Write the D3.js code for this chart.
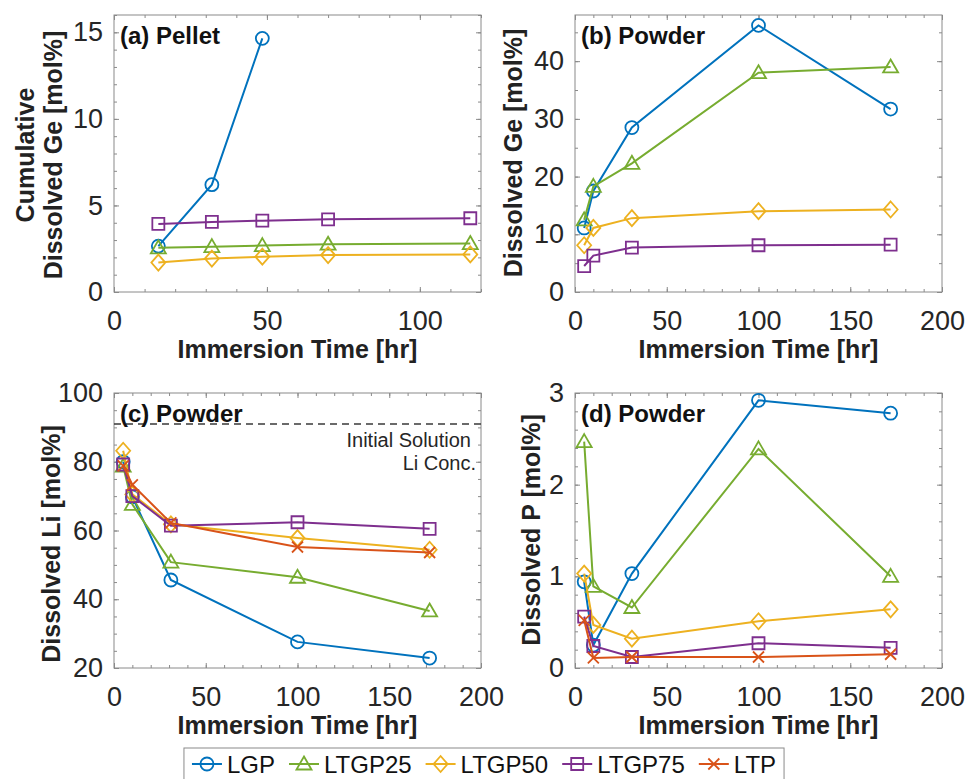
<!DOCTYPE html>
<html>
<head>
<meta charset="utf-8">
<script src="https://cdn.jsdelivr.net/npm/d3@7"></script>
<style>
  body { margin: 0; background: #fff; }
  svg { display: block; font-family: "Liberation Sans", Arial, Helvetica, sans-serif; }
  .tick text { fill: #262626; font-size: 27px; font-family: "Liberation Sans", Arial, Helvetica, sans-serif; }
  .tick line { stroke: #8a8a8a; }
</style>
</head>
<body>
<svg id="chart"></svg>
<script>
// Series names (same order in every value table below)
const seriesNames = ["LGP", "LTGP25", "LTGP50", "LTGP75", "LTP"];

// Sampling times [hr]
const pelletTimes = [14.5, 32, 48.5, 70, 116.5];
const powderTimes = [5, 10, 31, 100, 172];

// (a) Pellet, cumulative dissolved Ge [mol%]
const pelletGe = [
  [2.65, 6.2, 14.65, null, null],
  [2.55, 2.62, 2.68, 2.76, 2.8],
  [1.7, 1.93, 2.04, 2.13, 2.17],
  [3.93, 4.05, 4.12, 4.2, 4.26],
  null
];

// (b) Powder, dissolved Ge [mol%]
const powderGe = [
  [11.1, 17.5, 28.5, 46.2, 31.7],
  [12.5, 18.3, 22.3, 38.0, 39.0],
  [8.1, 11.1, 12.8, 14.0, 14.3],
  [4.5, 6.3, 7.7, 8.1, 8.2],
  null
];

// (c) Powder, dissolved Li [mol%]
const powderLi = [
  [80, 69.8, 45.6, 27.6, 22.9],
  [78.7, 67.6, 50.8, 46.4, 36.6],
  [83.2, 70.5, 61.8, 57.8, 54.4],
  [79.2, 70, 61.4, 62.4, 60.5],
  [78.8, 73.3, 62.2, 55.2, 53.6]
];
const initialLi = 91;

// (d) Powder, dissolved P [mol%]
const powderP = [
  [0.94, 0.25, 1.03, 2.92, 2.78],
  [2.47, 0.89, 0.66, 2.39, 1.0],
  [1.03, 0.47, 0.32, 0.51, 0.64],
  [0.56, 0.24, 0.12, 0.27, 0.22],
  [0.52, 0.11, 0.12, 0.12, 0.15]
];

// Tick labels
const xTicksPellet = [0, 50, 100];
const xTicksPowder = [0, 50, 100, 150, 200];
const yTicksA = [0, 5, 10, 15];
const yTicksB = [0, 10, 20, 30, 40];
const yTicksC = [20, 40, 60, 80, 100];
const yTicksD = [0, 1, 2, 3];

// Styles
const colors = ["#0072BD", "#77AC30", "#EDB120", "#7E2F8E", "#D95319"];
const shapes = ["circle", "triangle", "diamond", "square", "cross"];

const width = 968;
const height = 779;
const svg = d3.select("#chart").attr("width", width).attr("height", height);

function markerPath(shape) {
  switch (shape) {
    case "circle": return "M6.5,0A6.5,6.5 0 1,1 -6.5,0A6.5,6.5 0 1,1 6.5,0Z";
    case "triangle": return "M0,-7.5L7.5,5.5L-7.5,5.5Z";
    case "diamond": return "M0,-8L7,0L0,8L-7,0Z";
    case "square": return "M-6,-6L6,-6L6,6L-6,6Z";
    default: return "M-5.5,-5.5L5.5,5.5M-5.5,5.5L5.5,-5.5";
  }
}

const panels = [
  { left: 114, top: 15, w: 367, h: 277, xDomain: [0, 120], yDomain: [0, 16],
    xTicks: xTicksPellet, yTicks: yTicksA, xMinor: 10, yMinor: 1,
    times: pelletTimes, values: pelletGe, title: "(a) Pellet",
    ylab: ["Cumulative", "Dissolved Ge [mol%]"], ylabX: [34, 62], ylabY: 155 },
  { left: 575, top: 15, w: 367, h: 277, xDomain: [0, 200], yDomain: [0, 48],
    xTicks: xTicksPowder, yTicks: yTicksB, xMinor: 10, yMinor: 5,
    times: powderTimes, values: powderGe, title: "(b) Powder",
    ylab: ["Dissolved Ge [mol%]"], ylabX: [522], ylabY: 153 },
  { left: 114, top: 393, w: 367, h: 275, xDomain: [0, 200], yDomain: [20, 100],
    xTicks: xTicksPowder, yTicks: yTicksC, xMinor: 10, yMinor: 5,
    times: powderTimes, values: powderLi, title: "(c) Powder",
    ylab: ["Dissolved Li [mol%]"], ylabX: [60], ylabY: 544, refLine: initialLi },
  { left: 575, top: 393, w: 367, h: 275, xDomain: [0, 200], yDomain: [0, 3],
    xTicks: xTicksPowder, yTicks: yTicksD, xMinor: 10, yMinor: 0.2,
    times: powderTimes, values: powderP, title: "(d) Powder",
    ylab: ["Dissolved P [mol%]"], ylabX: [540], ylabY: 530 }
];

panels.forEach(function (p) {
  const g = svg.append("g");
  const xScale = d3.scaleLinear().domain(p.xDomain).range([p.left, p.left + p.w]);
  const yScale = d3.scaleLinear().domain(p.yDomain).range([p.top + p.h, p.top]);
  const xMinor = d3.range(p.xDomain[0], p.xDomain[1] + 1e-9, p.xMinor);
  const yMinor = d3.range(p.yDomain[0], p.yDomain[1] + 1e-9, p.yMinor);
  const bottom = p.top + p.h;
  const right = p.left + p.w;

  // minor ticks on all four sides
  [[d3.axisBottom(xScale), `translate(0,${bottom})`, xMinor],
   [d3.axisTop(xScale), `translate(0,${p.top})`, xMinor],
   [d3.axisLeft(yScale), `translate(${p.left},0)`, yMinor],
   [d3.axisRight(yScale), `translate(${right},0)`, yMinor]].forEach(function (a) {
    g.append("g").attr("transform", a[1])
      .call(a[0].tickValues(a[2]).tickSize(-3).tickFormat(""))
      .call(s => s.select(".domain").remove());
  });

  // major ticks without labels on top/right
  g.append("g").attr("transform", `translate(0,${p.top})`)
    .call(d3.axisTop(xScale).tickValues(p.xTicks).tickSize(-5).tickFormat(""))
    .call(s => s.select(".domain").remove());
  g.append("g").attr("transform", `translate(${right},0)`)
    .call(d3.axisRight(yScale).tickValues(p.yTicks).tickSize(-5).tickFormat(""))
    .call(s => s.select(".domain").remove());

  // labelled axes
  g.append("g").attr("transform", `translate(0,${bottom})`)
    .call(d3.axisBottom(xScale).tickValues(p.xTicks).tickSize(-5).tickPadding(19).tickFormat(d3.format("d")))
    .call(s => s.select(".domain").remove());
  g.append("g").attr("transform", `translate(${p.left},0)`)
    .call(d3.axisLeft(yScale).tickValues(p.yTicks).tickSize(-5).tickPadding(11).tickFormat(d3.format("d")))
    .call(s => s.select(".domain").remove());

  // box
  g.append("rect")
    .attr("x", p.left).attr("y", p.top).attr("width", p.w).attr("height", p.h)
    .attr("fill", "none").attr("stroke", "#8a8a8a").attr("stroke-width", 1);

  // reference line
  if (p.refLine !== undefined) {
    g.append("line")
      .attr("x1", p.left).attr("x2", right)
      .attr("y1", yScale(p.refLine)).attr("y2", yScale(p.refLine))
      .attr("stroke", "#3a3a3a").attr("stroke-width", 1.6).attr("stroke-dasharray", "7,5");
    g.append("text").attr("x", right - 10).attr("y", yScale(p.refLine) + 23)
      .attr("text-anchor", "end").attr("font-size", 20).attr("fill", "#262626")
      .text("Initial Solution");
    g.append("text").attr("x", right - 5).attr("y", yScale(p.refLine) + 46)
      .attr("text-anchor", "end").attr("font-size", 20).attr("fill", "#262626")
      .text("Li Conc.");
  }

  // series
  const line = d3.line().x(d => xScale(d.t)).y(d => yScale(d.v));
  p.values.forEach(function (row, i) {
    if (!row) return;
    const pts = p.times.map((t, j) => ({ t: t, v: row[j] })).filter(d => d.v !== null);
    g.append("path").datum(pts)
      .attr("d", line).attr("fill", "none")
      .attr("stroke", colors[i]).attr("stroke-width", 2);
    g.selectAll(null).data(pts).enter().append("path")
      .attr("transform", d => `translate(${xScale(d.t)},${yScale(d.v)})`)
      .attr("d", markerPath(shapes[i]))
      .attr("fill", "none").attr("stroke", colors[i]).attr("stroke-width", 1.8);
  });

  // panel title
  g.append("text").attr("x", p.left + 6).attr("y", p.top + 29)
    .attr("font-size", 24).attr("font-weight", "bold").attr("fill", "#111")
    .text(p.title);

  // x label
  g.append("text").attr("x", p.left + p.w / 2).attr("y", bottom + 66)
    .attr("text-anchor", "middle").attr("font-size", 25).attr("font-weight", "bold").attr("fill", "#222")
    .text("Immersion Time [hr]");

  // y label
  p.ylab.forEach(function (txt, k) {
    g.append("text")
      .attr("transform", `translate(${p.ylabX[k]},${p.ylabY}) rotate(-90)`)
      .attr("text-anchor", "middle").attr("font-size", 25).attr("font-weight", "bold").attr("fill", "#222")
      .text(txt);
  });
});

// Legend
const legend = svg.append("g");
const items = legend.append("g");
let cursor = 0;
seriesNames.forEach(function (name, i) {
  const it = items.append("g").attr("transform", `translate(${cursor},0)`);
  it.append("line").attr("x1", 0).attr("x2", 30).attr("y1", 0).attr("y2", 0)
    .attr("stroke", colors[i]).attr("stroke-width", 2);
  it.append("path").attr("transform", "translate(15,0)").attr("d", markerPath(shapes[i]))
    .attr("fill", "none").attr("stroke", colors[i]).attr("stroke-width", 1.8);
  const t = it.append("text").attr("x", 35).attr("y", 9)
    .attr("font-size", 24).attr("fill", "#111").text(name);
  cursor += 35 + t.node().getComputedTextLength() + 14;
});
const itemsW = cursor - 14;
const boxW = itemsW + 16;
const boxX = width / 2 - boxW / 2;
legend.insert("rect", ":first-child")
  .attr("x", boxX).attr("y", 748).attr("width", boxW).attr("height", 40)
  .attr("fill", "#fff").attr("stroke", "#8a8a8a").attr("stroke-width", 1);
items.attr("transform", `translate(${boxX + 8},764)`);
</script>
</body>
</html>
